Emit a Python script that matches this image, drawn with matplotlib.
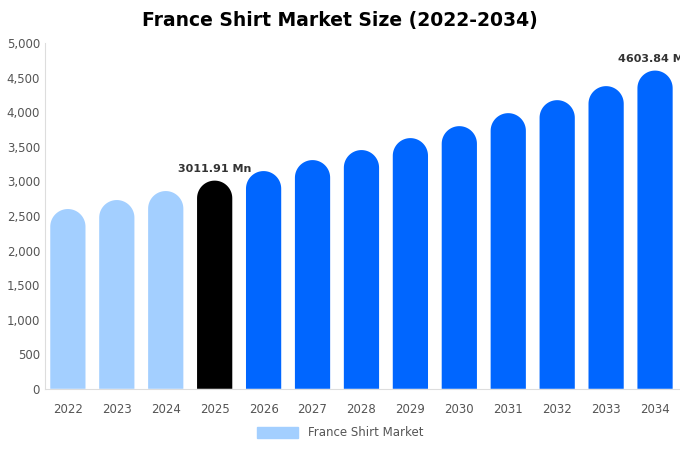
import matplotlib
matplotlib.use("Agg")
import numpy as np
import matplotlib.pyplot as plt
from matplotlib.patches import Polygon, Patch

years = [str(y) for y in range(2022, 2035)]
values = [2601, 2731, 2861, 3011.91, 3150, 3309, 3454, 3627, 3800, 3988, 4176, 4379, 4603.84]
labels = {3: "3011.91 Mn", 12: "4603.84 Mn"}
colors = ["#a3cfff"] * 3 + ["#000000"] + ["#0066ff"] * 9

fig = plt.figure(figsize=(6.8, 4.5), dpi=100)
ax = fig.add_axes([0.066, 0.136, 0.934, 0.768])
ax.set_xlim(-0.47, 12.51)
ax.set_ylim(0, 5000)

width = 0.72
# radius of the rounded cap in data units (half bar width in pixels -> y units)
px_per_x = 0.934 * 680 / (12.51 + 0.47)
px_per_y = 0.768 * 450 / 5000
r = width / 2 * px_per_x / px_per_y
t = np.linspace(0, np.pi, 40)
for i, (v, c) in enumerate(zip(values, colors)):
    xs = i + width / 2 * np.cos(t)
    ys = v - r + r * np.sin(t)
    pts = [(i + width / 2, 0)] + list(zip(xs, ys)) + [(i - width / 2, 0)]
    ax.add_patch(Polygon(pts, closed=True, facecolor=c, edgecolor="none"))
    if i in labels:
        ax.text(i, v + 90, labels[i], ha="center", va="bottom",
                fontsize=8, fontweight="bold", color="#333333", clip_on=False)

ax.set_xticks(range(len(years)))
ax.set_xticklabels(years)
ax.set_yticks(range(0, 5001, 500))
ax.set_yticklabels([f"{t:,}" for t in range(0, 5001, 500)])
ax.tick_params(colors="#555555", labelsize=8.5, length=0)
ax.tick_params(axis="x", pad=10)
for s in ["top", "right"]:
    ax.spines[s].set_visible(False)
for s in ["left", "bottom"]:
    ax.spines[s].set_color("#dddddd")

fig.suptitle("France Shirt Market Size (2022-2034)", fontsize=13.5,
             fontweight="bold", y=0.975)
fig.legend(handles=[Patch(color="#a3cfff", label="France Shirt Market")],
           loc="lower center", bbox_to_anchor=(0.5, 0.0), frameon=False,
           fontsize=8.5, labelcolor="#555555", handlelength=3.5, handleheight=1)
fig.savefig("out.png", dpi=100)
